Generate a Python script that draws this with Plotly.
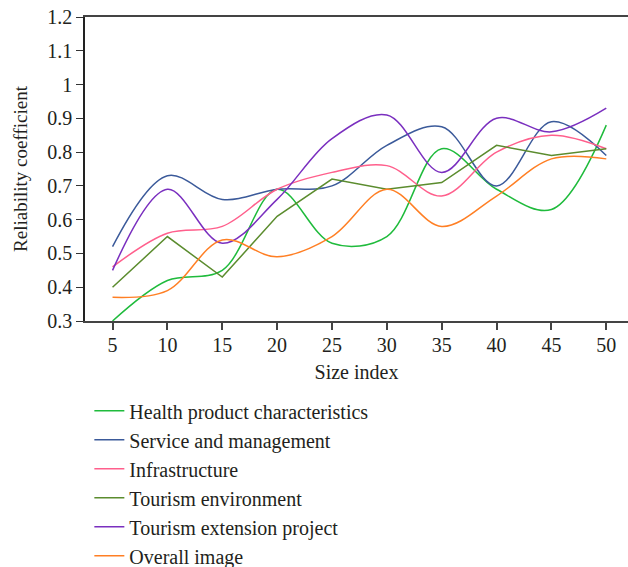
import plotly.graph_objects as go

size_index = [5, 10, 15, 20, 25, 30, 35, 40, 45, 50]

health_product = [0.30, 0.42, 0.45, 0.69, 0.53, 0.55, 0.81, 0.69, 0.63, 0.88]
service_management = [0.52, 0.73, 0.66, 0.69, 0.70, 0.82, 0.875, 0.70, 0.89, 0.79]
infrastructure = [0.46, 0.56, 0.58, 0.69, 0.74, 0.76, 0.67, 0.80, 0.85, 0.81]
tourism_environment = [0.40, 0.55, 0.43, 0.61, 0.72, 0.69, 0.71, 0.82, 0.79, 0.81]
tourism_extension = [0.45, 0.69, 0.53, 0.66, 0.84, 0.91, 0.74, 0.90, 0.86, 0.93]
overall_image = [0.37, 0.39, 0.54, 0.49, 0.55, 0.69, 0.58, 0.67, 0.78, 0.78]

y_tick_vals = [0.3, 0.4, 0.5, 0.6, 0.7, 0.8, 0.9, 1.0, 1.1, 1.2]
y_tick_text = ["0.3", "0.4", "0.5", "0.6", "0.7", "0.8", "0.9", "1", "1.1", "1.2"]

series = [
    ("Health product characteristics", health_product, "#1fbb3c", "spline"),
    ("Service and management", service_management, "#3b5a9a", "spline"),
    ("Infrastructure", infrastructure, "#ff5f8c", "spline"),
    ("Tourism environment", tourism_environment, "#5b8c2e", "linear"),
    ("Tourism extension project", tourism_extension, "#7a2fbf", "spline"),
    ("Overall image", overall_image, "#ff7f24", "spline"),
]

FONT = "Liberation Serif"
TXT = "#231f20"

fig = go.Figure()
for name, vals, color, shape in series:
    fig.add_trace(go.Scatter(
        x=size_index, y=vals, name=name, mode="lines",
        line=dict(color=color, width=1.5, shape=shape),
    ))

fig.update_layout(
    width=628, height=567,
    margin=dict(l=85, r=0, t=17, b=246, autoexpand=False),
    paper_bgcolor="white", plot_bgcolor="white",
    font=dict(family=FONT, size=20, color=TXT),
    showlegend=True,
    legend=dict(
        x=0.008, xanchor="left", y=-0.231, yanchor="top",
        font=dict(family=FONT, size=20, color=TXT),
        tracegroupgap=0, bgcolor="rgba(0,0,0,0)",
    ),
    xaxis=dict(
        range=[2.49, 51.98],
        tickvals=size_index, ticks="outside", ticklen=7, tickwidth=1.5,
        tickcolor="#444", showline=True, linecolor="#444", linewidth=1.5,
        mirror=True, showgrid=False, zeroline=False, ticklabelstandoff=-2,
        tickfont=dict(family=FONT, size=20, color=TXT),
        title=dict(text="Size index", font=dict(family=FONT, size=20, color=TXT), standoff=10),
    ),
    yaxis=dict(
        range=[0.3, 1.2],
        tickvals=y_tick_vals, ticktext=y_tick_text,
        ticks="outside", ticklen=7, tickwidth=1.2, tickcolor="#333",
        showline=True, linecolor="#222", linewidth=1.5,
        showgrid=False, zeroline=False,
        tickfont=dict(family=FONT, size=20, color=TXT),
        title=dict(text="Reliability coefficient", font=dict(family=FONT, size=19, color=TXT), standoff=15),
    ),
)

fig.write_html("out.html", config={"displayModeBar": False},
               post_script="document.body.style.margin='0';document.body.style.padding='0';")
